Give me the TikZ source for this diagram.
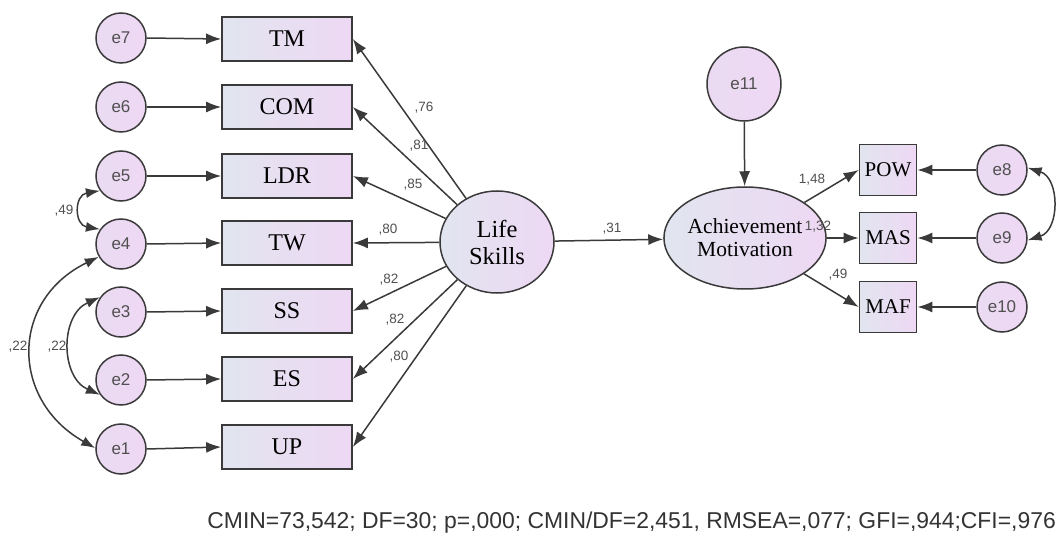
\documentclass[tikz,border=0pt]{standalone}
\usepackage{fontspec}
\setmainfont{Liberation Serif}
\newfontfamily\sansf{Liberation Sans}
\usetikzlibrary{arrows.meta,shapes.geometric}
\definecolor{lineC}{HTML}{3A3A3A}
\definecolor{fillL}{HTML}{E1E5F0}
\definecolor{fillR}{HTML}{EED8F3}
\definecolor{labC}{HTML}{505050}
\tikzset{
  x=1pt,y=-1pt,
  obs/.style={draw=lineC,line width=1.7pt,rectangle,minimum width=130pt,minimum height=44pt,inner sep=0pt,
    left color=fillL,right color=fillR,font=\fontsize{24}{26}\selectfont},
  obsR/.style={obs,minimum width=57pt,minimum height=51pt,font=\fontsize{21}{23}\selectfont},
  err/.style={draw=lineC,line width=1.5pt,circle,minimum size=50pt,inner sep=0pt,
    left color=fillR!75!fillL,right color=fillR,font=\sansf\fontsize{17}{19}\selectfont,text=labC},
  lat/.style={draw=lineC,line width=1.5pt,ellipse,inner sep=0pt,left color=fillL,right color=fillR,align=center},
  arr/.style={draw=lineC,line width=1.5pt,-{Latex[length=15pt,width=11pt]}},
  darr/.style={draw=lineC,line width=1.5pt,{Latex[length=14pt,width=10pt]}-{Latex[length=14pt,width=10pt]}},
  coef/.style={font=\sansf\fontsize{13.5}{15}\selectfont,text=labC,inner sep=0pt},
}
\begin{document}
\begin{tikzpicture}
\useasboundingbox (0,0) rectangle (1060,537);
% error terms left
\node[err] (e7) at (121,38) {e7};
\node[err] (e6) at (121,107) {e6};
\node[err] (e5) at (121,176) {e5};
\node[err] (e4) at (121,244) {e4};
\node[err] (e3) at (121,312) {e3};
\node[err] (e2) at (121,380) {e2};
\node[err] (e1) at (121,449) {e1};
% indicator boxes
\node[obs] (TM) at (287,39) {TM};
\node[obs] (COM) at (287,107) {COM};
\node[obs] (LDR) at (287,176) {LDR};
\node[obs] (TW) at (287,243) {TW};
\node[obs] (SS) at (287,311) {SS};
\node[obs] (ES) at (287,379) {ES};
\node[obs] (UP) at (287,447) {UP};
% latent variables
\node[lat,minimum width=114pt,minimum height=102pt,font=\fontsize{24.5}{27}\selectfont] (LS) at (497,242) {Life\\Skills};
\node[lat,minimum width=116pt,minimum height=102pt,font=\fontsize{21.5}{23}\selectfont] (AM) at (745,238) {Achievement\\Motivation};
\node[err,minimum size=74pt,font=\sansf\fontsize{17}{19}\selectfont] (e11) at (744,84) {e11};
% right indicators
\node[obsR] (POW) at (888,170) {POW};
\node[obsR] (MAS) at (888,238) {MAS};
\node[obsR] (MAF) at (888,307) {MAF};
\node[err] (e8) at (1002,170) {e8};
\node[err] (e9) at (1002,238) {e9};
\node[err] (e10) at (1002,307) {e10};
% error arrows
\foreach \e/\b in {e7/TM,e6/COM,e5/LDR,e4/TW,e3/SS,e2/ES,e1/UP}
  \draw[arr] (\e.east) -- (\b.west);
\foreach \e/\b in {e8/POW,e9/MAS,e10/MAF}
  \draw[arr] (\e.west) -- (\b.east);
\draw[arr] (e11) -- (AM);
% loadings
\foreach \b in {TM,COM,LDR,TW,SS,ES,UP}
  \draw[arr] (LS) -- (\b.east);
\draw[arr] (LS) -- (AM);
\draw[arr] (AM) -- (POW.west);
\draw[arr] (AM) -- (MAS.west);
\draw[arr] (AM) -- (MAF.west);
% covariances
\draw[darr] (e5.215) .. controls (74,195) and (74,225) .. (e4.145);
\draw[darr] (e3.145) .. controls (60,315) and (60,377) .. (e2.215);
\draw[darr] (e4.210) .. controls (10,300) and (10,400) .. (e1.178);
\draw[darr] (e8.5) .. controls (1060,178) and (1060,230) .. (e9.-5);
% coefficient labels
\node[coef] (c1) at (424,108) {,76};
\node[coef] (c2) at (419,146) {,81};
\node[coef] (c3) at (413,185) {,85};
\node[coef] (c4) at (388,230) {,80};
\node[coef] (c5) at (389,280) {,82};
\node[coef] (c6) at (395,320) {,82};
\node[coef] (c7) at (399,357) {,80};
\node[coef] (c8) at (612,229) {,31};
\node[coef] (c9) at (812,180) {1,48};
\node[coef] (c10) at (818,227) {1,32};
\node[coef] (c11) at (838,275) {,49};
\node[coef] (c12) at (64,211) {,49};
\node[coef] (c13) at (18,347) {,22};
\node[coef] (c14) at (57,347) {,22};
% footer
\node[font=\sansf\fontsize{22.9}{25}\selectfont,text=black!80,anchor=east,inner sep=0pt] (fit) at (1056,523)
  {CMIN=73,542; DF=30; p=,000; CMIN/DF=2,451, RMSEA=,077; GFI=,944;CFI=,976};
\end{tikzpicture}
\end{document}
